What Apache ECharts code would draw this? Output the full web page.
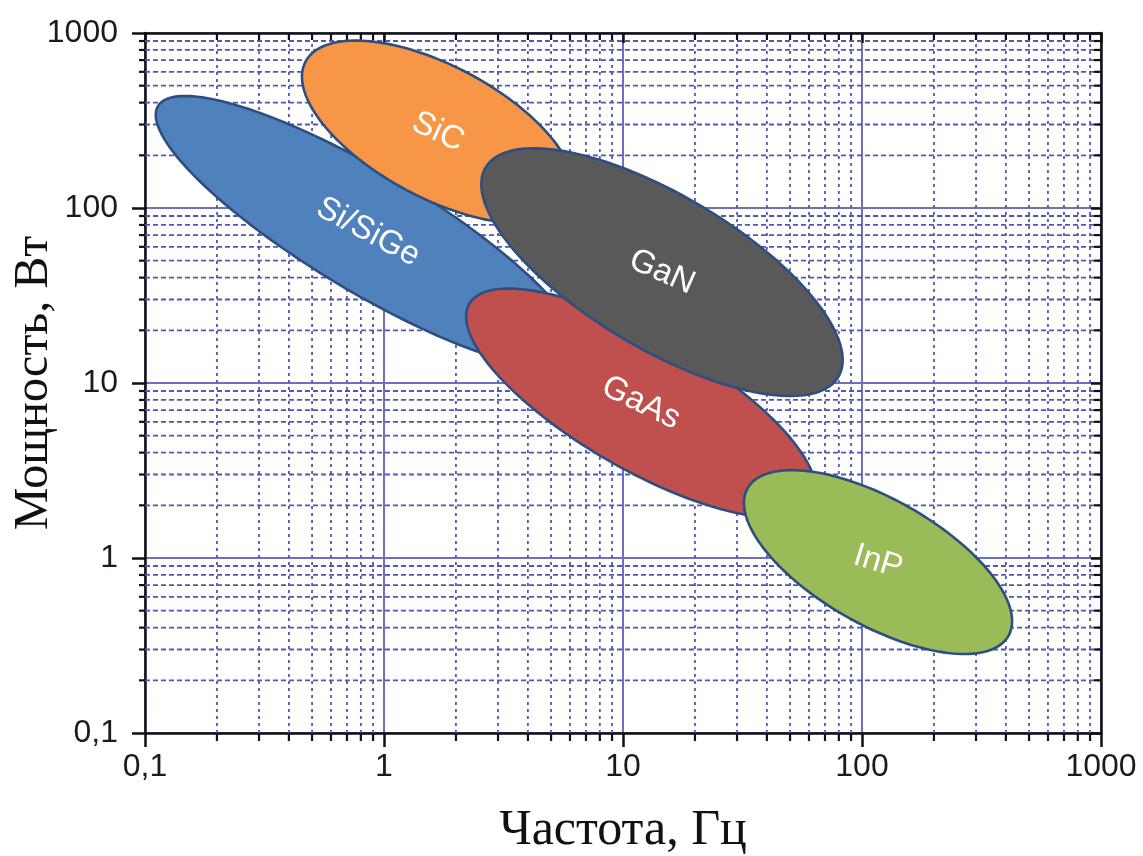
<!DOCTYPE html>
<html>
<head>
<meta charset="utf-8">
<script src="https://cdn.jsdelivr.net/npm/echarts@6/dist/echarts.min.js"></script>
<style>
html,body{margin:0;padding:0;background:#fff;}
#chart{width:1143px;height:856px;}
</style>
</head>
<body>
<div id="chart"></div>
<script>
// ---- data ----
const xTitle = 'Частота, Гц';
const yTitle = 'Мощность, Вт';
const tickValues = [0.1, 1, 10, 100, 1000];
const tickLabels = ['0,1', '1', '10', '100', '1000'];
const minorSteps = [2, 3, 4, 5, 6, 7, 8, 9];
const decadeStarts = [0.1, 1, 10, 100];

// ellipse regions (draw order), values in Hz / W
const materials      = ['Si/SiGe', 'SiC', 'GaAs', 'GaN', 'InP'];
const centerFreq     = [0.857, 1.683, 11.88, 14.56, 116.7];
const centerPower    = [72.9, 271.8, 7.69, 43.0, 0.948];
const majorEndFreq   = [6.48, 6.03, 62.1, 79.6, 410];
const majorEndPower  = [13.9, 107.6, 2.09, 10.84, 0.359];
const minorEndFreq   = [0.637, 1.248, 8.65, 9.97, 86.5];
const minorEndPower  = [37.1, 126.2, 3.62, 18.03, 0.461];

// ---- styles ----
const fillColors = ['#4f81bd', '#f79646', '#c0504d', '#595959', '#9bbb59'];
const labelRotation = [28, 25, 26, 24, 17];

const xMin = tickValues[0], xMax = tickValues[tickValues.length - 1];
const yMin = tickValues[0], yMax = tickValues[tickValues.length - 1];

const minorValues = [];
decadeStarts.forEach(d => minorSteps.forEach(s => minorValues.push(+(d * s).toPrecision(6))));

function labelFor(v) {
  const i = tickValues.findIndex(t => Math.abs(Math.log10(t) - Math.log10(v)) < 1e-6);
  return i >= 0 ? tickLabels[i] : '';
}

const gridColor = '#5555b4';
const majorColor = '#6e6ec2';

const chart = echarts.init(document.getElementById('chart'), null, {renderer: 'canvas'});

const ellipseData = materials.map((m, i) => [
  centerFreq[i], centerPower[i], majorEndFreq[i], majorEndPower[i], minorEndFreq[i], minorEndPower[i], i
]);

const L = Math.log10;

const option = {
  animation: false,
  backgroundColor: '#ffffff',
  grid: {left: 145, right: 42, top: 33, bottom: 123, containLabel: false, outerBoundsMode: 'none'},
  xAxis: [
    {
      type: 'log', logBase: 10, min: xMin, max: xMax, position: 'bottom',
      name: xTitle, nameLocation: 'middle', nameGap: 73, nameMoveOverlap: false,
      nameTextStyle: {fontFamily: 'Liberation Serif', fontSize: 50, color: '#111'},
      axisLine: {show: true, onZero: false, lineStyle: {color: '#111', width: 2.5}},
      axisTick: {show: true, inside: false, length: 14, lineStyle: {color: '#111', width: 2.5}},
      axisLabel: {show: true, margin: 18, fontFamily: 'Liberation Sans', fontSize: 32, color: '#1a1a22', formatter: labelFor},
      splitLine: {show: true, lineStyle: {color: majorColor, width: 2}},
      minorTick: {show: false}, minorSplitLine: {show: false}
    },
    {
      type: 'log', logBase: 10, min: xMin, max: xMax, position: 'top',
      axisLine: {show: true, onZero: false, lineStyle: {color: '#111', width: 2.5}},
      axisTick: {show: true, inside: true, length: 10, lineStyle: {color: '#111', width: 2.5}},
      axisLabel: {show: false}, splitLine: {show: false}
    }
  ],
  yAxis: [
    {
      type: 'log', logBase: 10, min: yMin, max: yMax, position: 'left',
      name: yTitle, nameLocation: 'middle', nameGap: 87, nameMoveOverlap: false,
      nameTextStyle: {fontFamily: 'Liberation Serif', fontSize: 48, color: '#111'},
      axisLine: {show: true, onZero: false, lineStyle: {color: '#111', width: 2.5}},
      axisTick: {show: true, inside: false, length: 13, lineStyle: {color: '#111', width: 2.5}},
      axisLabel: {show: true, margin: 27, fontFamily: 'Liberation Sans', fontSize: 32, color: '#1a1a22', formatter: labelFor},
      splitLine: {show: true, lineStyle: {color: majorColor, width: 2}},
      minorTick: {show: false}, minorSplitLine: {show: false}
    },
    {
      type: 'log', logBase: 10, min: yMin, max: yMax, position: 'right',
      axisLine: {show: true, onZero: false, lineStyle: {color: '#111', width: 2.5}},
      axisTick: {show: true, inside: true, length: 10, lineStyle: {color: '#111', width: 2.5}},
      axisLabel: {show: false}, splitLine: {show: false}
    }
  ],
  series: [
    {
      // minor vertical grid lines + minor x ticks
      type: 'custom', xAxisIndex: 0, yAxisIndex: 0, z: 1, silent: true,
      data: minorValues.map(v => [v, yMin]),
      renderItem: function (params, api) {
        const v = api.value(0);
        const b = api.coord([v, yMin]);
        const t = api.coord([v, yMax]);
        return {
          type: 'group',
          children: [
            {type: 'line', shape: {x1: b[0], y1: b[1], x2: t[0], y2: t[1]},
             style: {stroke: gridColor, lineWidth: 1.8, lineDash: [3, 4]}},
            {type: 'line', shape: {x1: b[0], y1: b[1], x2: b[0], y2: b[1] + 8},
             style: {stroke: '#111', lineWidth: 2.2}},
            {type: 'line', shape: {x1: t[0], y1: t[1], x2: t[0], y2: t[1] + 7},
             style: {stroke: '#111', lineWidth: 2.2}}
          ]
        };
      }
    },
    {
      // minor horizontal grid lines + minor y ticks
      type: 'custom', xAxisIndex: 0, yAxisIndex: 0, z: 1, silent: true,
      data: minorValues.map(v => [xMin, v]),
      renderItem: function (params, api) {
        const v = api.value(1);
        const l = api.coord([xMin, v]);
        const r = api.coord([xMax, v]);
        return {
          type: 'group',
          children: [
            {type: 'line', shape: {x1: l[0], y1: l[1], x2: r[0], y2: r[1]},
             style: {stroke: gridColor, lineWidth: 1.8, lineDash: [5, 3]}},
            {type: 'line', shape: {x1: l[0] - 6, y1: l[1], x2: l[0], y2: l[1]},
             style: {stroke: '#111', lineWidth: 2.2}},
            {type: 'line', shape: {x1: r[0] - 7, y1: r[1], x2: r[0], y2: r[1]},
             style: {stroke: '#111', lineWidth: 2.2}}
          ]
        };
      }
    },
    {
      // material regions
      type: 'custom', xAxisIndex: 0, yAxisIndex: 0, z: 5, silent: true,
      encode: {x: [0, 2, 4], y: [1, 3, 5]},
      data: ellipseData,
      renderItem: function (params, api) {
        const cx = L(api.value(0)), cy = L(api.value(1));
        const mx = L(api.value(2)), my = L(api.value(3));
        const nx = L(api.value(4)), ny = L(api.value(5));
        const idx = api.value(6);
        const pts = [];
        const N = 160;
        for (let k = 0; k < N; k++) {
          const t = 2 * Math.PI * k / N;
          const lx = cx + (mx - cx) * Math.cos(t) + (nx - cx) * Math.sin(t);
          const ly = cy + (my - cy) * Math.cos(t) + (ny - cy) * Math.sin(t);
          pts.push(api.coord([Math.pow(10, lx), Math.pow(10, ly)]));
        }
        const c = api.coord([api.value(0), api.value(1)]);
        return {
          type: 'group',
          children: [
            {type: 'polygon', shape: {points: pts},
             style: {fill: fillColors[idx], stroke: '#2d4f80', lineWidth: 2.6}},
            {type: 'text', x: c[0], y: c[1], rotation: -labelRotation[idx] * Math.PI / 180,
             style: {text: materials[idx], fill: '#ffffff', fontFamily: 'Liberation Sans',
                     fontSize: 33, align: 'center', verticalAlign: 'middle'}}
          ]
        };
      }
    }
  ]
};
chart.setOption(option);
</script>
</body>
</html>
